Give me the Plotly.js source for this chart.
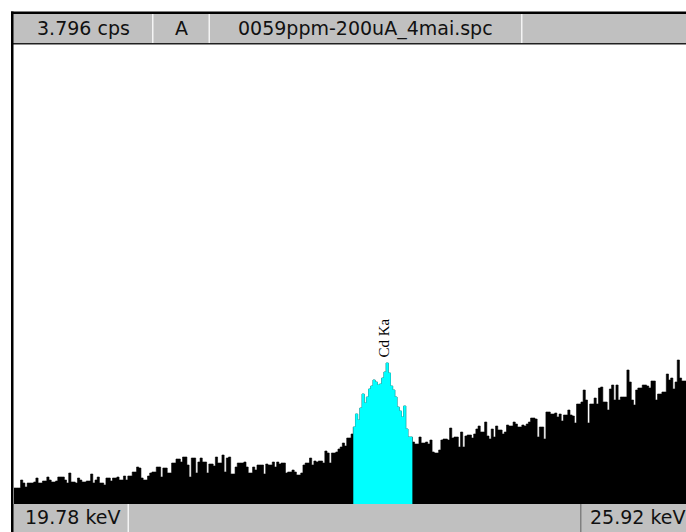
<!DOCTYPE html>
<html><head><meta charset="utf-8">
<script src="https://cdn.plot.ly/plotly-3.0.1.min.js"></script>
<style>html,body{margin:0;padding:0;background:#fff;overflow:hidden;} #chart{width:686px;height:532px;}</style>
</head><body><div id="chart"></div>
<script>
// ---- data ----
const startKeV = 19.78;
const endKeV = 25.92;
const keVPerChannel = 0.02;
const fullScaleCounts = 459;   // vertical full scale (= 3.796 cps)
const counts = [
  16,16,16,24,21,17,21,21,21,22,
  26,21,21,23,23,27,24,22,22,23,
  27,27,27,24,21,31,22,22,21,26,
  24,22,22,23,23,30,21,24,27,21,
  21,19,26,26,23,26,26,27,24,24,
  28,24,28,28,32,32,37,36,26,24,
  24,28,31,32,32,37,37,27,36,36,
  31,31,41,41,45,45,42,47,47,39,
  27,46,46,31,42,46,42,42,31,40,
  40,38,47,41,41,49,32,46,47,30,
  30,37,41,41,41,42,37,31,31,37,
  34,39,39,39,30,40,39,39,42,37,
  42,40,41,41,31,32,32,34,32,29,
  29,31,39,41,41,46,39,43,42,43,
  43,41,53,51,41,51,51,52,55,57,
  61,58,66,66,70,
  77,90,84,96,110,101,107,115,118,124,122,119,120,126,132,141,131,118,114,107,97,93,87,98,75,67,67,
  62,60,60,67,61,61,62,60,
  64,52,51,51,54,64,65,65,64,76,
  66,67,67,57,72,57,68,69,69,66,
  70,75,78,72,72,82,68,65,75,67,
  78,74,74,70,72,79,78,78,82,80,
  77,77,79,78,80,82,86,86,85,67,
  77,77,65,92,92,90,90,91,87,90,
  83,89,89,94,89,88,81,100,100,102,
  114,104,81,100,100,106,100,116,117,102,
  102,94,115,119,104,119,104,107,107,107,
  134,122,104,99,114,116,116,119,119,118,
  116,123,123,104,110,110,112,112,130,124,
  126,115,122,144,126,123,123
];
const roiFirstChannel = 155;
const roiLastChannel = 181;
const peakLabel = 'Cd Ka';
const peakKeV = 23.17;
const headerCells = ['3.796 cps', 'A', '0059ppm-200uA_4mai.spc'];
const footerLabels = ['19.78 keV', '25.92 keV'];

// ---- build step outlines from channels ----
function steps(first, last) {
  const x = [], y = [];
  for (let i = first; i <= last; i++) { x.push(startKeV + i * keVPerChannel); y.push(counts[i]); }
  x.push(startKeV + (last + 1) * keVPerChannel); y.push(counts[last]);
  return {x, y};
}
const all = steps(0, counts.length - 1);
const roi = steps(roiFirstChannel, roiLastChannel);

const traces = [
  {type:'scatter', mode:'lines', x: all.x, y: all.y, line:{shape:'hv', color:'#000', width:0.6},
   fill:'tozeroy', fillcolor:'#000', hoverinfo:'skip'},
  {type:'scatter', mode:'lines', x: roi.x, y: roi.y, line:{shape:'hv', color:'#00FFFF', width:0.6},
   fill:'tozeroy', fillcolor:'#00FFFF', hoverinfo:'skip'}
];

// ---- window chrome (pixel helpers) ----
const L = 14, T = 45, W = 672, H = 459;
const px = v => (v - L) / W;
const py = v => (T + H - v) / H;
function rect(x0, y0, x1, y1, color) {
  return {type:'rect', xref:'paper', yref:'paper', x0:px(x0), x1:px(x1), y0:py(y1), y1:py(y0),
          fillcolor:color, line:{width:0}, layer:'above'};
}
const shapes = [
  rect(13, 13, 686, 44, '#C0C0C0'),
  rect(11, 11.5, 686, 14, '#000000'),
  rect(13, 43, 686, 44.5, '#202020'),
  rect(152, 14, 153.5, 43, '#F4F4F4'),
  rect(208.5, 14, 210, 43, '#F4F4F4'),
  rect(521, 14, 522.5, 43, '#F4F4F4'),
  rect(13, 504, 686, 532, '#C0C0C0'),
  rect(127.5, 504, 129, 532, '#F4F4F4'),
  rect(580, 504, 581.5, 532, '#808080'),
  rect(11, 11.5, 13.5, 532, '#000000')
];
const uiFont = {family:'DejaVu Sans', size:19, color:'#111'};
function label(text, xPix, yPix, anchor) {
  return {xref:'paper', yref:'paper', x:px(xPix), y:py(yPix), text:text, showarrow:false,
          xanchor:anchor, yanchor:'middle', font:uiFont};
}
const annotations = [
  label(headerCells[0], 83, 28, 'center'),
  label(headerCells[1], 181, 28, 'center'),
  label(headerCells[2], 365.5, 28, 'center'),
  label(footerLabels[0], 72.5, 517, 'center'),
  label(footerLabels[1], 588, 517, 'left'),
  {xref:'x', yref:'y', x:peakKeV, y:Math.max(...counts.slice(roiFirstChannel, roiLastChannel + 1)),
   text:peakLabel, textangle:-90, showarrow:false, xanchor:'center', yanchor:'bottom', yshift:3, xshift:-2,
   font:{family:'Liberation Serif', size:15, color:'#000'}}
];

const layout = {
  width:686, height:532,
  margin:{l:L, r:0, t:T, b:532 - T - H, pad:0},
  paper_bgcolor:'#fff', plot_bgcolor:'#fff',
  showlegend:false,
  xaxis:{range:[startKeV, endKeV], visible:false, fixedrange:true},
  yaxis:{range:[0, fullScaleCounts], visible:false, fixedrange:true},
  shapes:shapes, annotations:annotations
};
Plotly.newPlot('chart', traces, layout, {displayModeBar:false, staticPlot:true});
</script></body></html>
